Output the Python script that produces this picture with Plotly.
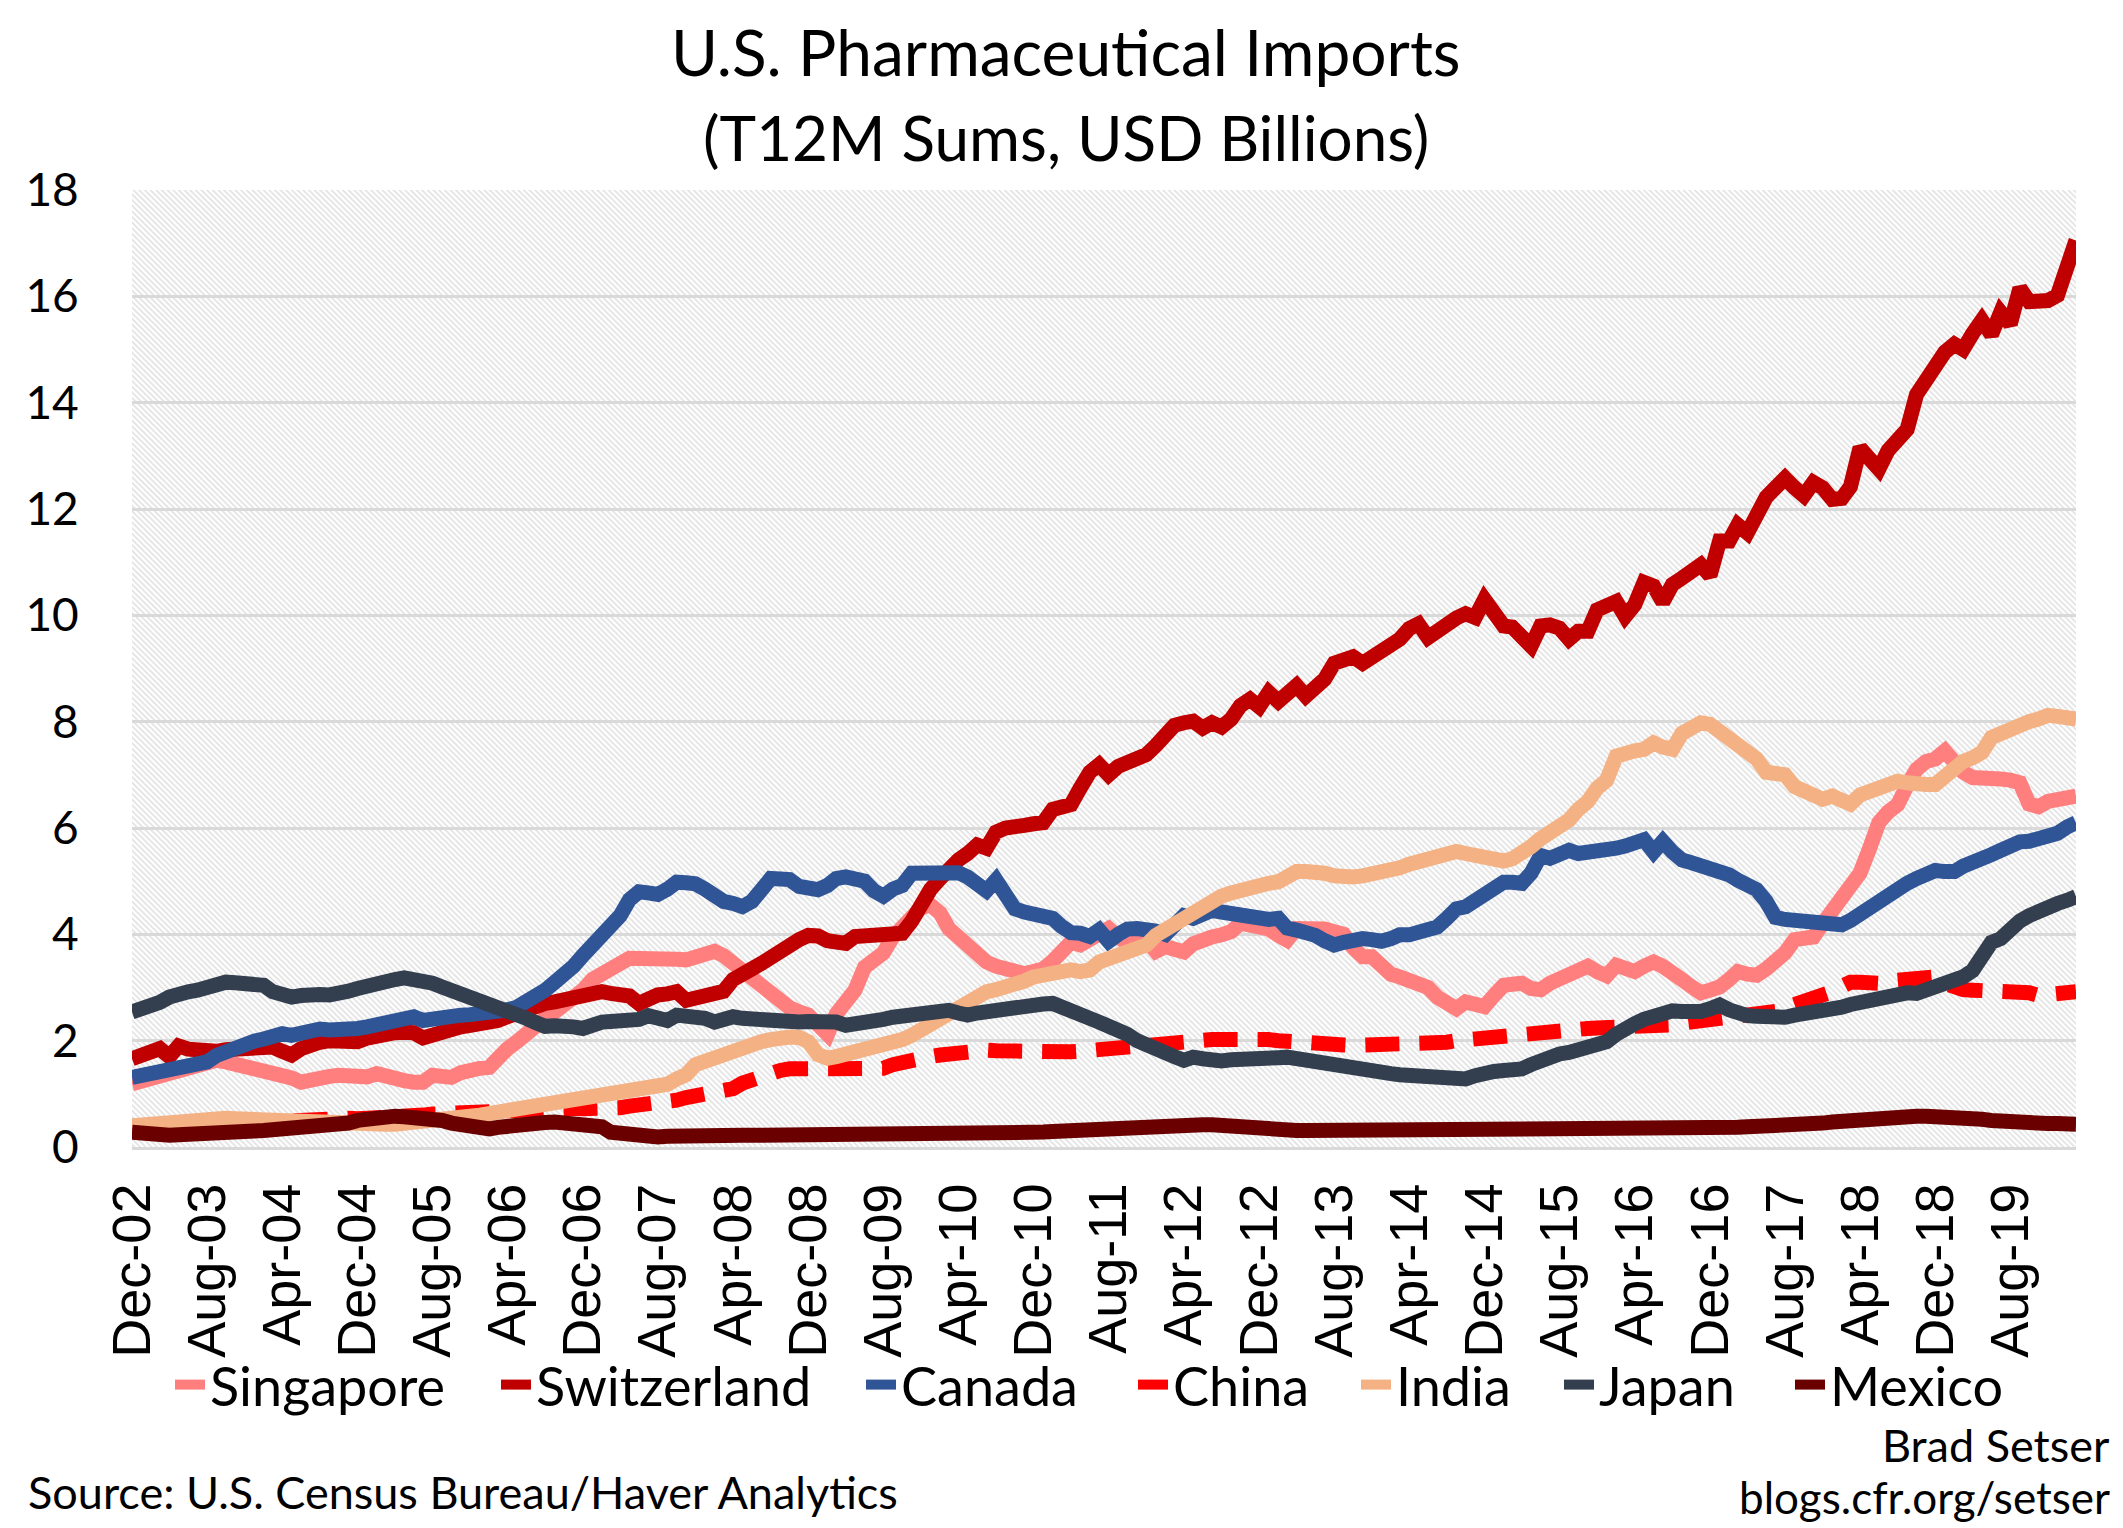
import base64
import pandas as pd
import plotly.graph_objects as go

# ---------------- data (T12M sums, USD billions), monthly Dec-2002 .. Mar-2020 ----------------
start_month = "2002-12-01"
n_months = 208

singapore = [
    1.19, 1.24, 1.28, 1.31, 1.40, 1.47, 1.53, 1.57, 1.61, 1.63, 1.60, 1.56,
    1.52, 1.44, 1.47, 1.42, 1.38, 1.30, 1.22, 1.28, 1.30, 1.33, 1.35, 1.32,
    1.28, 1.32, 1.38, 1.32, 1.28, 1.25, 1.22, 1.22, 1.35, 1.33, 1.31, 1.40,
    1.46, 1.48, 1.50, 1.70, 1.85, 1.98, 2.15, 2.30, 2.42, 2.54, 2.65, 2.79,
    2.95, 3.15, 3.28, 3.38, 3.45, 3.55, 3.56, 3.55, 3.54, 3.54, 3.53, 3.52,
    3.55, 3.62, 3.68, 3.60, 3.45, 3.30, 3.15, 3.00, 2.88, 2.75, 2.62, 2.54,
    2.48, 2.30, 2.12, 2.50, 2.75, 2.95, 3.38, 3.50, 3.65, 3.95, 4.15, 4.40,
    4.50, 4.55, 4.40, 4.11, 3.95, 3.78, 3.62, 3.48, 3.40, 3.33, 3.30, 3.26,
    3.30, 3.35, 3.50, 3.65, 3.85, 3.80, 3.90, 4.05, 4.11, 3.95, 3.83, 3.86,
    3.89, 3.68, 3.77, 3.72, 3.67, 3.82, 3.92, 3.95, 3.99, 4.05, 4.21, 4.18,
    4.15, 4.10, 3.98, 3.89, 4.11, 4.12, 4.14, 4.10, 4.05, 4.00, 3.75, 3.58,
    3.58, 3.40, 3.25, 3.20, 3.12, 3.06, 3.00, 2.82, 2.72, 2.60, 2.73, 2.68,
    2.64, 2.85, 3.04, 3.06, 3.08, 2.98, 2.96, 3.08, 3.15, 3.20, 3.26, 3.40,
    3.30, 3.22, 3.42, 3.35, 3.30, 3.40, 3.48, 3.40, 3.30, 3.15, 3.02, 2.90,
    2.95, 3.01, 3.15, 3.30, 3.25, 3.23, 3.35, 3.48, 3.65, 3.90, 3.92, 3.95,
    4.20, 4.43, 4.70, 4.95, 5.15, 5.60, 6.10, 6.30, 6.44, 6.80, 7.10, 7.25,
    7.30, 7.45, 7.20, 7.05, 6.95, 6.92, 6.95, 6.92, 6.90, 6.85, 6.45, 6.40,
    6.50, 6.52, 6.55, 6.60,
]

switzerland = [
    1.66, 1.72, 1.78, 1.85, 1.70, 1.90, 1.84, 1.82, 1.82, 1.80, 1.83, 1.85,
    1.85, 1.86, 1.87, 1.88, 1.80, 1.73, 1.85, 1.93, 1.97, 2.00, 1.99, 1.98,
    1.98, 2.05, 2.10, 2.12, 2.15, 2.16, 2.15, 2.05, 2.12, 2.19, 2.22, 2.26,
    2.29, 2.31, 2.35, 2.38, 2.45, 2.52, 2.60, 2.65, 2.70, 2.73, 2.78, 2.82,
    2.86, 2.92, 2.92, 2.89, 2.87, 2.84, 2.70, 2.80, 2.86, 2.88, 2.92, 2.76,
    2.82, 2.88, 2.92, 2.93, 3.15, 3.22, 3.35, 3.45, 3.58, 3.72, 3.82, 3.90,
    3.98, 3.97, 3.88, 3.86, 3.83, 3.96, 3.98, 4.00, 4.04, 4.03, 4.02, 4.25,
    4.60, 4.85, 5.05, 5.25, 5.40, 5.52, 5.68, 5.62, 5.92, 6.00, 6.06, 6.05,
    6.08, 6.10, 6.35, 6.40, 6.44, 6.75, 7.05, 7.19, 7.00, 7.16, 7.22, 7.30,
    7.38, 7.55, 7.75, 7.93, 7.98, 8.01, 7.88, 7.98, 7.90, 8.05, 8.30, 8.42,
    8.28, 8.55, 8.38, 8.50, 8.68, 8.48, 8.60, 8.80, 9.10, 9.20, 9.22, 9.10,
    9.20, 9.31, 9.45, 9.55, 9.75, 9.84, 9.58, 9.72, 9.84, 9.95, 10.03, 9.96,
    10.30, 10.05, 9.80, 9.78, 9.60, 9.42, 9.80, 9.82, 9.76, 9.55, 9.70, 9.70,
    10.10, 10.15, 10.26, 9.98, 10.20, 10.62, 10.55, 10.25, 10.58, 10.70, 10.85, 10.95,
    10.75, 11.40, 11.40, 11.70, 11.55, 11.95, 12.22, 12.40, 12.58, 12.40, 12.25, 12.50,
    12.40, 12.18, 12.20, 12.42, 13.15, 12.95, 12.75, 13.10, 13.30, 13.50, 14.15, 14.45,
    14.75, 14.95, 15.10, 15.00, 15.30, 15.55, 15.28, 15.70, 15.48, 16.15, 15.90, 15.88,
    15.92, 16.02, 16.50, 17.05,
]

canada = [
    1.31, 1.34, 1.37, 1.41, 1.44, 1.47, 1.52, 1.56, 1.60, 1.72, 1.80, 1.88,
    1.95, 1.99, 2.03, 2.10, 2.13, 2.10, 2.16, 2.22, 2.22, 2.20, 2.19, 2.20,
    2.23, 2.26, 2.30, 2.33, 2.38, 2.42, 2.45, 2.38, 2.42, 2.45, 2.47, 2.48,
    2.49, 2.50, 2.51, 2.54, 2.58, 2.63, 2.72, 2.84, 2.95, 3.10, 3.22, 3.40,
    3.60, 3.80, 3.95, 4.10, 4.35, 4.65, 4.80, 4.78, 4.75, 4.85, 4.98, 4.97,
    4.95, 4.85, 4.70, 4.62, 4.58, 4.52, 4.62, 4.85, 5.05, 5.04, 5.03, 4.90,
    4.86, 4.84, 4.92, 5.05, 5.08, 5.05, 5.00, 4.82, 4.72, 4.85, 4.92, 5.15,
    5.16, 5.15, 5.18, 5.20, 5.16, 5.08, 4.95, 4.82, 5.02, 4.80, 4.48, 4.42,
    4.40, 4.38, 4.30, 4.15, 4.03, 4.02, 3.96, 4.08, 3.87, 4.00, 4.10, 4.11,
    4.11, 4.06, 4.00, 4.20, 4.35, 4.30, 4.38, 4.45, 4.42, 4.38, 4.36, 4.30,
    4.27, 4.28, 4.30, 4.12, 4.08, 4.05, 3.98, 3.88, 3.80, 3.85, 3.90, 3.92,
    3.90, 3.87, 3.92, 3.99, 3.99, 4.02, 4.08, 4.14, 4.30, 4.48, 4.52, 4.62,
    4.74, 4.85, 4.98, 4.98, 4.96, 5.15, 5.48, 5.43, 5.52, 5.58, 5.52, 5.53,
    5.56, 5.58, 5.62, 5.66, 5.72, 5.78, 5.55, 5.75, 5.55, 5.40, 5.35, 5.30,
    5.25, 5.20, 5.12, 5.02, 4.92, 4.84, 4.62, 4.32, 4.28, 4.26, 4.22, 4.18,
    4.15, 4.14, 4.18, 4.26, 4.38, 4.55, 4.68, 4.80, 4.88, 4.96, 5.05, 5.15,
    5.20, 5.18, 5.18, 5.28, 5.38, 5.42, 5.50, 5.58, 5.70, 5.74, 5.75, 5.78,
    5.83, 5.90, 6.02, 6.10,
]

china = [
    0.35, 0.36, 0.37, 0.38, 0.39, 0.40, 0.41, 0.42, 0.43, 0.44, 0.45, 0.46,
    0.47, 0.48, 0.49, 0.50, 0.51, 0.53, 0.55, 0.56, 0.56, 0.56, 0.55, 0.54,
    0.53, 0.53, 0.54, 0.55, 0.56, 0.57, 0.58, 0.60, 0.62, 0.63, 0.64, 0.66,
    0.68, 0.69, 0.69, 0.70, 0.71, 0.73, 0.74, 0.75, 0.75, 0.75, 0.74, 0.73,
    0.72, 0.71, 0.70, 0.71, 0.74, 0.77, 0.78, 0.78, 0.79, 0.82, 0.88, 0.93,
    0.96, 0.98, 1.00, 1.02, 1.10, 1.20, 1.28, 1.32, 1.38, 1.44, 1.47, 1.47,
    1.47, 1.47, 1.48, 1.48, 1.50, 1.50, 1.51, 1.50, 1.48, 1.55, 1.60, 1.64,
    1.66, 1.70, 1.73, 1.76, 1.79, 1.80, 1.81, 1.82, 1.81, 1.80, 1.81, 1.82,
    1.82, 1.82, 1.81, 1.80, 1.79, 1.80, 1.82, 1.84, 1.84, 1.86, 1.88, 1.88,
    1.89, 1.92, 1.95, 1.98, 2.01, 2.01, 2.02, 2.02, 2.02, 2.03, 2.04, 2.04,
    2.03, 2.02, 2.00, 1.98, 1.96, 1.95, 1.94, 1.93, 1.93, 1.92, 1.91, 1.91,
    1.91, 1.92, 1.93, 1.93, 1.94, 1.94, 1.94, 1.95, 1.97, 2.00, 2.02, 2.04,
    2.05, 2.07, 2.10, 2.13, 2.15, 2.16, 2.18, 2.20, 2.22, 2.23, 2.23, 2.23,
    2.24, 2.24, 2.25, 2.26, 2.27, 2.27, 2.28, 2.28, 2.30, 2.33, 2.35, 2.36,
    2.37, 2.40, 2.44, 2.47, 2.48, 2.49, 2.50, 2.55, 2.62, 2.68, 2.73, 2.76,
    2.82, 2.92, 3.02, 3.10, 3.10, 3.08, 3.08, 3.12, 3.15, 3.18, 3.20, 3.21,
    3.20, 3.08, 2.98, 2.96, 2.95, 2.95, 2.94, 2.94, 2.92, 2.92, 2.90, 2.85,
    2.85, 2.88, 2.92, 2.92,
]

india = [
    0.40, 0.42, 0.45, 0.47, 0.49, 0.51, 0.52, 0.53, 0.54, 0.54, 0.54, 0.53,
    0.52, 0.51, 0.50, 0.50, 0.51, 0.52, 0.51, 0.49, 0.47, 0.46, 0.45, 0.43,
    0.42, 0.42, 0.43, 0.43, 0.43, 0.44, 0.46, 0.47, 0.49, 0.52, 0.54, 0.56,
    0.58, 0.60, 0.63, 0.66, 0.68, 0.70, 0.72, 0.74, 0.76, 0.78, 0.82, 0.86,
    0.90, 0.93, 0.96, 0.98, 1.00, 1.03, 1.06, 1.08, 1.12, 1.18, 1.28, 1.36,
    1.55, 1.62, 1.66, 1.72, 1.78, 1.85, 1.92, 1.98, 2.02, 2.06, 2.07, 2.06,
    1.98, 1.74, 1.67, 1.70, 1.74, 1.76, 1.80, 1.84, 1.89, 1.95, 2.02, 2.10,
    2.20, 2.30, 2.42, 2.55, 2.65, 2.78, 2.87, 2.92, 2.96, 3.00, 3.05, 3.12,
    3.20, 3.25, 3.30, 3.30, 3.33, 3.30, 3.33, 3.48, 3.55, 3.60, 3.64, 3.70,
    3.80, 3.98, 4.10, 4.20, 4.28, 4.40, 4.52, 4.65, 4.72, 4.78, 4.84, 4.88,
    4.92, 4.96, 4.99, 5.10, 5.18, 5.18, 5.18, 5.15, 5.10, 5.06, 5.08, 5.10,
    5.12, 5.14, 5.18, 5.25, 5.32, 5.38, 5.43, 5.50, 5.54, 5.56, 5.52, 5.48,
    5.45, 5.40, 5.38, 5.42, 5.50, 5.65, 5.80, 5.90, 6.05, 6.15, 6.35, 6.50,
    6.75, 6.90, 7.35, 7.42, 7.45, 7.48, 7.60, 7.52, 7.48, 7.78, 7.88, 7.98,
    7.95, 7.80, 7.65, 7.55, 7.42, 7.30, 7.05, 7.02, 7.00, 6.78, 6.68, 6.60,
    6.54, 6.60, 6.50, 6.45, 6.62, 6.70, 6.76, 6.82, 6.88, 6.85, 6.80, 6.82,
    6.82, 7.00, 7.12, 7.25, 7.32, 7.42, 7.70, 7.78, 7.85, 7.98, 8.00, 8.05,
    8.12, 8.10, 8.06, 8.05,
]

japan = [
    2.54, 2.58, 2.62, 2.72, 2.82, 2.90, 2.92, 2.95, 3.02, 3.10, 3.10, 3.09,
    3.08, 3.04, 3.04, 2.92, 2.86, 2.82, 2.85, 2.88, 2.87, 2.86, 2.87, 2.93,
    2.98, 3.04, 3.04, 3.10, 3.15, 3.18, 3.17, 3.16, 3.08, 3.01, 2.95, 2.88,
    2.80, 2.73, 2.70, 2.67, 2.60, 2.52, 2.42, 2.34, 2.27, 2.28, 2.29, 2.26,
    2.23, 2.32, 2.35, 2.36, 2.37, 2.38, 2.40, 2.47, 2.42, 2.38, 2.48, 2.48,
    2.48, 2.42, 2.35, 2.40, 2.45, 2.42, 2.40, 2.38, 2.36, 2.35, 2.35, 2.35,
    2.36, 2.37, 2.38, 2.35, 2.29, 2.30, 2.31, 2.33, 2.40, 2.44, 2.47, 2.52,
    2.54, 2.55, 2.56, 2.57, 2.52, 2.48, 2.52, 2.55, 2.57, 2.62, 2.65, 2.67,
    2.68, 2.69, 2.70, 2.65, 2.58, 2.52, 2.42, 2.35, 2.28, 2.22, 2.12, 2.00,
    1.91, 1.84, 1.78, 1.70, 1.63, 1.69, 1.66, 1.62, 1.62, 1.64, 1.66, 1.64,
    1.63, 1.66, 1.68, 1.69, 1.66, 1.61, 1.58, 1.52, 1.50, 1.50, 1.50, 1.46,
    1.43, 1.41, 1.38, 1.36, 1.35, 1.35, 1.35, 1.32, 1.29, 1.28, 1.28, 1.34,
    1.40, 1.42, 1.44, 1.45, 1.47, 1.55, 1.63, 1.68, 1.75, 1.78, 1.82, 1.84,
    1.88, 1.98, 2.12, 2.25, 2.32, 2.40, 2.48, 2.55, 2.56, 2.55, 2.54, 2.55,
    2.60, 2.67, 2.58, 2.50, 2.47, 2.46, 2.45, 2.40, 2.44, 2.48, 2.50, 2.52,
    2.54, 2.58, 2.63, 2.68, 2.72, 2.76, 2.84, 2.89, 2.90, 2.90, 2.89, 2.95,
    3.00, 3.05, 3.10, 3.20, 3.32, 3.55, 3.85, 3.92, 4.10, 4.25, 4.35, 4.45,
    4.52, 4.58, 4.64, 4.71,
]

mexico = [
    0.28, 0.25, 0.22, 0.21, 0.22, 0.23, 0.23, 0.23, 0.23, 0.24, 0.27, 0.28,
    0.29, 0.30, 0.31, 0.32, 0.33, 0.34, 0.35, 0.36, 0.37, 0.38, 0.40, 0.45,
    0.50, 0.53, 0.56, 0.59, 0.58, 0.57, 0.56, 0.56, 0.55, 0.50, 0.45, 0.42,
    0.38, 0.35, 0.34, 0.37, 0.40, 0.44, 0.47, 0.47, 0.46, 0.47, 0.45, 0.44,
    0.43, 0.43, 0.38, 0.28, 0.25, 0.22, 0.20, 0.18, 0.19, 0.20, 0.21, 0.21,
    0.21, 0.21, 0.21, 0.21, 0.22, 0.22, 0.22, 0.22, 0.22, 0.23, 0.23, 0.23,
    0.23, 0.23, 0.23, 0.23, 0.22, 0.22, 0.22, 0.21, 0.21, 0.22, 0.22, 0.22,
    0.22, 0.22, 0.22, 0.23, 0.23, 0.23, 0.24, 0.24, 0.25, 0.25, 0.26, 0.26,
    0.27, 0.28, 0.29, 0.30, 0.30, 0.31, 0.33, 0.35, 0.36, 0.38, 0.40, 0.41,
    0.42, 0.42, 0.42, 0.42, 0.42, 0.42, 0.42, 0.42, 0.40, 0.38, 0.36, 0.34,
    0.33, 0.33, 0.32, 0.32, 0.31, 0.31, 0.31, 0.31, 0.30, 0.30, 0.30, 0.30,
    0.30, 0.30, 0.30, 0.30, 0.30, 0.30, 0.30, 0.31, 0.31, 0.31, 0.31, 0.31,
    0.31, 0.31, 0.31, 0.31, 0.31, 0.31, 0.31, 0.31, 0.31, 0.31, 0.31, 0.31,
    0.32, 0.32, 0.32, 0.32, 0.33, 0.33, 0.33, 0.33, 0.33, 0.34, 0.34, 0.34,
    0.35, 0.35, 0.36, 0.37, 0.38, 0.38, 0.39, 0.40, 0.41, 0.42, 0.43, 0.44,
    0.45, 0.47, 0.49, 0.50, 0.51, 0.52, 0.53, 0.55, 0.56, 0.57, 0.58, 0.58,
    0.58, 0.57, 0.56, 0.55, 0.54, 0.52, 0.50, 0.48, 0.47, 0.46, 0.45, 0.45,
    0.44, 0.44, 0.43, 0.43,
]

series_names = ["Singapore", "Switzerland", "Canada", "China", "India", "Japan", "Mexico"]
y_ticks = [0, 2, 4, 6, 8, 10, 12, 14, 16, 18]
title_lines = ["U.S. Pharmaceutical Imports", "(T12M Sums, USD Billions)"]
source_text = "Source: U.S. Census Bureau/Haver Analytics"
author_lines = ["Brad Setser", "blogs.cfr.org/setser"]

# ---------------- figure ----------------
months = pd.date_range(start_month, periods=n_months, freq="MS")
tick_months = months[::8]

styles = {
    "Singapore":   dict(color="#FF7F7F", dash="solid"),
    "Switzerland": dict(color="#C00000", dash="solid"),
    "Canada":      dict(color="#2F5597", dash="solid"),
    "China":       dict(color="#FF0000", dash="34px,20px"),
    "India":       dict(color="#F4B183", dash="solid"),
    "Japan":       dict(color="#333F4F", dash="solid"),
    "Mexico":      dict(color="#6B0000", dash="solid"),
}
values = [singapore, switzerland, canada, china, india, japan, mexico]
# left edge (px) of each legend label in the page
legend_text_left = [214, 540, 905, 1177, 1400, 1603, 1834]

W, H = 2123, 1528
ML, MR, MT, MB = 132, 47, 190, 381
PW, PH = W - ML - MR, H - MT - MB


def py(pix_y):
    return (MT + PH - pix_y) / PH


def px(pix_x):
    return (pix_x - ML) / PW


fig = go.Figure()
legend_layouts = {}
for i, (name, vals) in enumerate(zip(series_names, values)):
    st = styles[name]
    lg = "legend" if i == 0 else f"legend{i + 1}"
    fig.add_trace(go.Scatter(
        x=months, y=vals, name=name, mode="lines", legend=lg,
        line=dict(color=st["color"], width=15, dash=st["dash"]),
    ))
    legend_layouts[lg] = dict(
        orientation="h", x=px(legend_text_left[i] - 44), xanchor="left",
        y=py(1385), yanchor="middle",
        font=dict(family="Lato", size=54, color="black"),
        bgcolor="rgba(0,0,0,0)", borderwidth=0,
    )

# hatched plot background (light downward diagonal)
svg = (
    f'<svg xmlns="http://www.w3.org/2000/svg" width="{PW}" height="{PH}">'
    '<defs><pattern id="h" width="4" height="4" patternUnits="userSpaceOnUse" '
    'patternTransform="rotate(-45)">'
    '<line x1="1" y1="0" x2="1" y2="4" stroke="#cdcdcd" stroke-width="1"/>'
    '</pattern></defs>'
    '<rect width="100%" height="100%" fill="#ffffff"/>'
    '<rect width="100%" height="100%" fill="url(#h)"/></svg>'
)
fig.add_layout_image(dict(
    source="data:image/svg+xml;base64," + base64.b64encode(svg.encode()).decode(),
    xref="paper", yref="paper", x=0, y=1, sizex=1, sizey=1,
    sizing="stretch", xanchor="left", yanchor="top", layer="below",
))

annotations = [
    dict(text=title_lines[0], x=px(1066), y=py(52), xref="paper", yref="paper",
         xanchor="center", yanchor="middle", showarrow=False,
         font=dict(family="Lato", size=64, color="black")),
    dict(text=title_lines[1], x=px(1066), y=py(137), xref="paper", yref="paper",
         xanchor="center", yanchor="middle", showarrow=False,
         font=dict(family="Lato", size=62, color="black")),
    dict(text=source_text, x=px(26), y=py(1492), xref="paper", yref="paper",
         xanchor="left", yanchor="middle", showarrow=False,
         font=dict(family="Lato", size=45, color="black")),
    dict(text=author_lines[0], x=px(2112), y=py(1445), xref="paper", yref="paper",
         xanchor="right", yanchor="middle", showarrow=False,
         font=dict(family="Lato", size=45, color="black")),
    dict(text=author_lines[1], x=px(2112), y=py(1497), xref="paper", yref="paper",
         xanchor="right", yanchor="middle", showarrow=False,
         font=dict(family="Lato", size=44, color="black")),
]

fig.update_layout(
    width=W, height=H, autosize=False,
    margin=dict(l=ML, r=MR, t=MT, b=MB, pad=0),
    paper_bgcolor="white", plot_bgcolor="rgba(0,0,0,0)",
    showlegend=True,
    annotations=annotations,
    xaxis=dict(
        type="date", range=[months[0], months[-1]],
        tickvals=list(tick_months), tickformat="%b-%y", tickangle=-90,
        ticks="outside", ticklen=12, tickcolor="rgba(0,0,0,0)",
        tickfont=dict(family="Liberation Sans", size=54, color="black"),
        showgrid=False, zeroline=False,
        showline=True, linecolor="#d9d9d9", linewidth=3,
    ),
    yaxis=dict(
        range=[0, 18], tickvals=y_ticks,
        ticks="outside", ticklen=43, tickcolor="rgba(0,0,0,0)",
        tickfont=dict(family="Lato", size=46, color="black"),
        showgrid=True, gridcolor="#d9d9d9", gridwidth=3,
        zeroline=False, showline=False,
    ),
    **legend_layouts,
)

fig.write_html(
    "out.html",
    config={"displayModeBar": False},
    post_script="document.body.style.margin='0px';document.body.style.overflow='hidden';",
)
